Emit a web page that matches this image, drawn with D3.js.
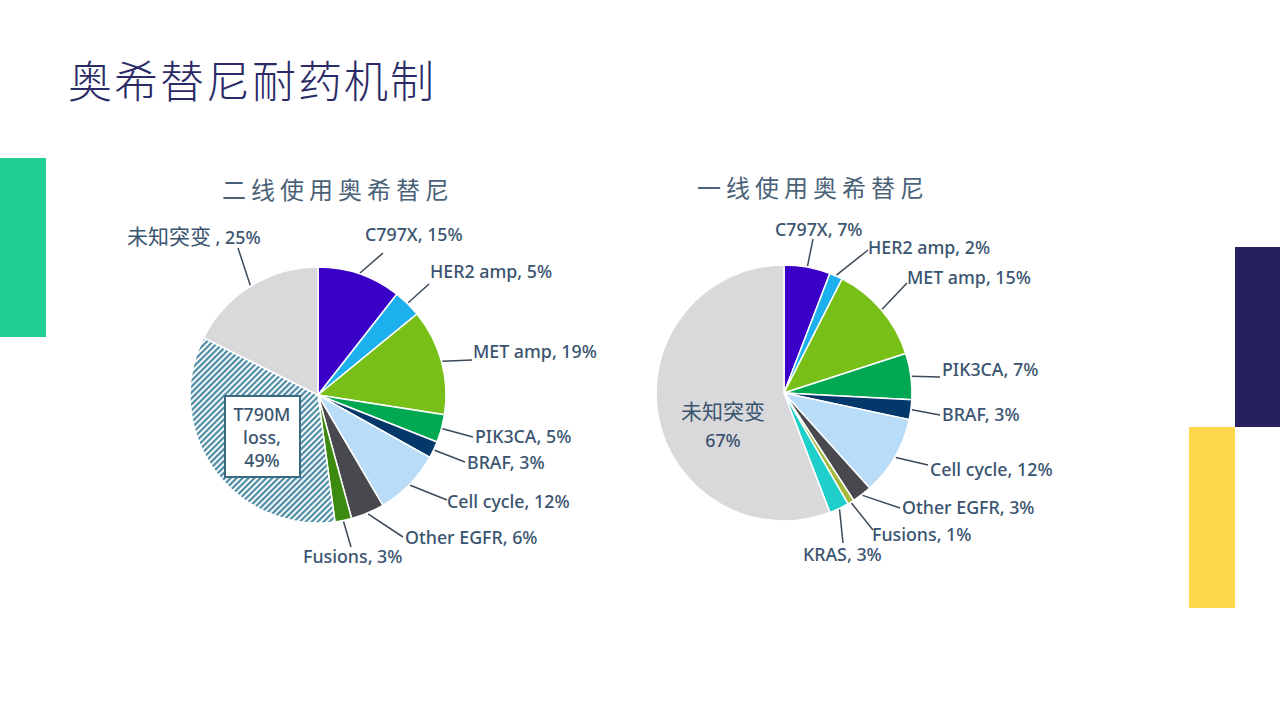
<!DOCTYPE html>
<html>
<head>
<meta charset="utf-8">
<script src="https://cdn.jsdelivr.net/npm/d3@7"></script>
<style>
  html, body { margin: 0; padding: 0; background: #fff; }
  svg { display: block; }
  .lbl { font-family: "Noto Sans", "Noto Sans CJK SC", sans-serif; font-size: 17.8px; font-weight: 500; fill: #3a5470; }
  .cjk { font-family: "Noto Sans CJK SC", sans-serif; }
</style>
</head>
<body>
<div id="chart"></div>
<script>
const kWidth = 1280;
const kHeight = 720;
const kRadius = 128;

// second-line osimertinib
const kLeftNames = ["C797X", "HER2 amp", "MET amp", "PIK3CA", "BRAF", "Cell cycle", "Other EGFR", "Fusions", "T790M loss", "未知突变"];
const kLeftValues = [15, 5, 19, 5, 3, 12, 6, 3, 49, 25];

// first-line osimertinib
const kRightNames = ["C797X", "HER2 amp", "MET amp", "PIK3CA", "BRAF", "Cell cycle", "Other EGFR", "Fusions", "KRAS", "未知突变"];
const kRightValues = [7, 2, 15, 7, 3, 12, 3, 1, 3, 67];

const kLeftColors = {
  "C797X": "#3a00c8", "HER2 amp": "#1db0ee", "MET amp": "#78c018", "PIK3CA": "#00a852",
  "BRAF": "#05386a", "Cell cycle": "#b9dcf8", "Other EGFR": "#48494e", "Fusions": "#3c8a10",
  "T790M loss": "url(#hatch)", "未知突变": "#d9d9db"
};
const kRightColors = Object.assign({}, kLeftColors, { "Fusions": "#a4b83a", "KRAS": "#1fcfca" });

// label text start (tx, ty baseline) and leader end (ex, ey), relative to pie centre
const kLeftLayout = {
  "C797X":      { tx: 47,   ty: -154, ex: 65,  ey: -142 },
  "HER2 amp":   { tx: 112,  ty: -117, ex: 111, ey: -111 },
  "MET amp":    { tx: 155,  ty: -37,  ex: 154, ey: -35 },
  "PIK3CA":     { tx: 157,  ty: 48,   ex: 155, ey: 42 },
  "BRAF":       { tx: 149,  ty: 74,   ex: 147, ey: 67 },
  "Cell cycle": { tx: 129,  ty: 113,  ex: 129, ey: 105 },
  "Other EGFR": { tx: 87,   ty: 149,  ex: 85,  ey: 142 },
  "Fusions":    { tx: -15,  ty: 168,  ex: 33,  ey: 152 },
  "未知突变":    { tx: -191, ty: -151, ex: -80, ey: -147 }
};
const kRightLayout = {
  "C797X":      { tx: -9,  ty: -157, ex: 29,  ey: -154 },
  "HER2 amp":   { tx: 84,  ty: -139, ex: 84,  ey: -143 },
  "MET amp":    { tx: 123, ty: -109, ex: 123, ey: -110 },
  "PIK3CA":     { tx: 158, ty: -17,  ex: 156, ey: -16 },
  "BRAF":       { tx: 158, ty: 28,   ex: 156, ey: 22 },
  "Cell cycle": { tx: 146, ty: 83,   ex: 144, ey: 72 },
  "Other EGFR": { tx: 118, ty: 121,  ex: 116, ey: 115 },
  "Fusions":    { tx: 88,  ty: 148,  ex: 89,  ey: 137 },
  "KRAS":       { tx: 19,  ty: 168,  ex: 59,  ey: 150 }
};

const svg = d3.select("#chart")
  .append("svg")
  .attr("width", kWidth)
  .attr("height", kHeight);

const defs = svg.append("defs");
const hatch = defs.append("pattern")
  .attr("id", "hatch")
  .attr("patternUnits", "userSpaceOnUse")
  .attr("width", 4.2)
  .attr("height", 4.2)
  .attr("patternTransform", "rotate(45)");
hatch.append("rect").attr("width", 4.2).attr("height", 4.2).attr("fill", "#ffffff");
hatch.append("line")
  .attr("x1", 1.2).attr("y1", 0).attr("x2", 1.2).attr("y2", 4.2)
  .attr("stroke", "#4a8aa2").attr("stroke-width", 2.2);

// decorative blocks
svg.append("rect").attr("x", 0).attr("y", 158).attr("width", 46).attr("height", 179).attr("fill", "#1fcf93");
svg.append("rect").attr("x", 1235).attr("y", 247).attr("width", 45).attr("height", 180).attr("fill", "#26215e");
svg.append("rect").attr("x", 1189).attr("y", 427).attr("width", 46).attr("height", 181).attr("fill", "#fdd84a");

svg.append("text")
  .attr("x", 68)
  .attr("y", 79)
  .attr("class", "cjk")
  .attr("dominant-baseline", "central")
  .style("font-size", "44px")
  .style("font-weight", 300)
  .style("letter-spacing", "2px")
  .style("fill", "#2a2a66")
  .text("奥希替尼耐药机制");

function drawPie(cx, cy, titleX, title, names, values, colors, layout)
{
  const g = svg.append("g").attr("transform", `translate(${cx}, ${cy})`);
  const data = names.map((n, i) => ({ name: n, value: values[i] }));

  g.append("text")
    .attr("x", titleX)
    .attr("y", -207)
    .attr("class", "cjk")
    .attr("dominant-baseline", "central")
    .style("font-size", "24px")
    .style("letter-spacing", "5px")
    .style("fill", "#4a6278")
    .text(title);

  const pie = d3.pie().sort(null).value(d => d.value);
  const arc = d3.arc().innerRadius(0).outerRadius(kRadius);
  const arcs = pie(data);

  g.selectAll("path.slice")
    .data(arcs)
    .enter()
    .append("path")
    .attr("class", "slice")
    .attr("d", arc)
    .attr("fill", d => colors[d.data.name])
    .attr("stroke", "#ffffff")
    .attr("stroke-width", 1.5);

  const labelled = arcs.filter(d => layout[d.data.name]);

  g.selectAll("line.leader")
    .data(labelled)
    .enter()
    .append("line")
    .attr("class", "leader")
    .attr("x1", d => Math.sin((d.startAngle + d.endAngle) / 2) * (kRadius + 1))
    .attr("y1", d => -Math.cos((d.startAngle + d.endAngle) / 2) * (kRadius + 1))
    .attr("x2", d => layout[d.data.name].ex)
    .attr("y2", d => layout[d.data.name].ey)
    .attr("stroke", "#3c4a58")
    .attr("stroke-width", 1.5);

  g.selectAll("text.lbl")
    .data(labelled)
    .enter()
    .append("text")
    .attr("class", "lbl")
    .attr("x", d => layout[d.data.name].tx)
    .attr("y", d => layout[d.data.name].ty)
    .each(function(d) {
      const t = d3.select(this);
      if (/[\u4e00-\u9fff]/.test(d.data.name)) {
        t.append("tspan").attr("class", "cjk").style("font-size", "21px").style("font-weight", 400).text(d.data.name);
        t.append("tspan").text(` , ${d.data.value}%`);
      } else {
        t.text(`${d.data.name}, ${d.data.value}%`);
      }
    });

  return { g, arcs };
}

const left = drawPie(318, 395, -96, "二线使用奥希替尼", kLeftNames, kLeftValues, kLeftColors, kLeftLayout);
const right = drawPie(784, 393, -87, "一线使用奥希替尼", kRightNames, kRightValues, kRightColors, kRightLayout);

// T790M loss boxed label
const t790 = left.arcs.find(d => d.data.name === "T790M loss");
left.g.append("rect")
  .attr("x", -93).attr("y", 1)
  .attr("width", 75).attr("height", 81)
  .attr("fill", "#ffffff")
  .attr("stroke", "#3b6a82")
  .attr("stroke-width", 2);
left.g.append("text")
  .attr("class", "lbl")
  .attr("text-anchor", "middle")
  .selectAll("tspan")
  .data(["T790M", "loss,", `${t790.data.value}%`])
  .enter()
  .append("tspan")
  .attr("x", -56)
  .attr("y", (d, i) => 26 + i * 23)
  .text(d => d);

// unknown slice label inside the right pie
const unknown = right.arcs.find(d => d.data.name === "未知突变");
const uText = right.g.append("text")
  .attr("class", "lbl")
  .attr("text-anchor", "middle");
uText.append("tspan").attr("class", "cjk").attr("x", -61).attr("y", 26)
  .style("font-size", "21px").style("font-weight", 400).text(unknown.data.name);
uText.append("tspan").attr("x", -61).attr("y", 54).text(`${unknown.data.value}%`);
</script>
</body>
</html>
